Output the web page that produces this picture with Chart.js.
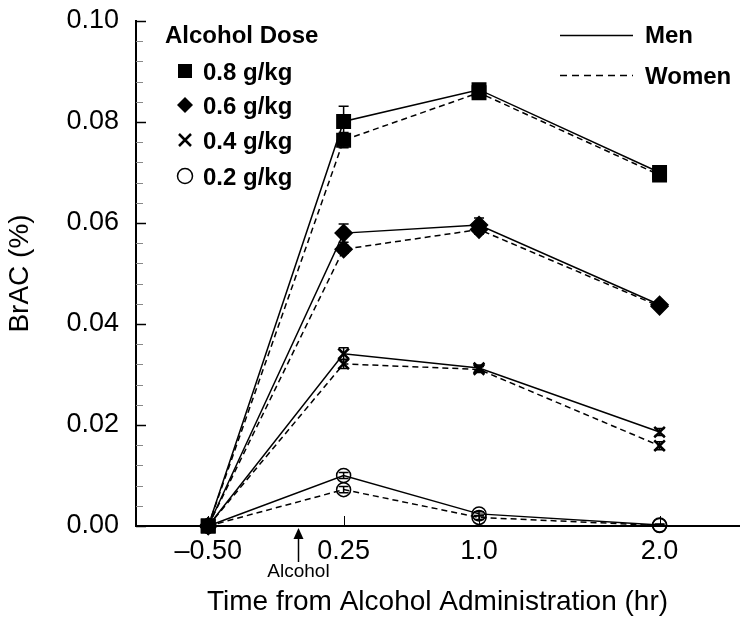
<!DOCTYPE html>
<html>
<head>
<meta charset="utf-8">
<script src="https://cdn.jsdelivr.net/npm/chart.js@4.4.0/dist/chart.umd.min.js"></script>
<style>
  html, body { margin: 0; padding: 0; background: #fff; }
  #wrap { width: 750px; height: 628px; position: relative; }
</style>
</head>
<body>
<div id="wrap"><canvas id="brac"></canvas></div>
<script>
// time points (hr) and their tick labels
const times = [-0.5, 0.25, 1.0, 2.0];
const timeLabels = ['\u20130.50', '0.25', '1.0', '2.0'];
const alcoholTime = 0;

const doseLabels = ['0.8 g/kg', '0.6 g/kg', '0.4 g/kg', '0.2 g/kg'];
const sexLabels = ['Men', 'Women'];

// mean BrAC (%)
const men08   = [0, 0.0801, 0.0864, 0.0700];
const women08 = [0, 0.0764, 0.0858, 0.0695];
const men06   = [0, 0.0580, 0.0596, 0.0438];
const women06 = [0, 0.0548, 0.0587, 0.0435];
const men04   = [0, 0.0341, 0.0313, 0.0186];
const women04 = [0, 0.0321, 0.0310, 0.0159];
const men02   = [0, 0.0100, 0.0024, 0.0002];
const women02 = [0, 0.0072, 0.0017, 0.0001];

// standard errors
const men08Err   = [0, 0.0030, 0.0008, 0.0006];
const women08Err = [0, 0.0015, 0.0008, 0.0006];
const men06Err   = [0, 0.0018, 0.0014, 0.0006];
const women06Err = [0, 0.0008, 0.0009, 0.0006];
const men04Err   = [0, 0.0012, 0.0006, 0.0007];
const women04Err = [0, 0.0009, 0.0006, 0.0008];
const men02Err   = [0, 0.0006, 0.0004, 0.0002];
const women02Err = [0, 0.0006, 0.0004, 0.0002];

const FONT = "'Liberation Sans', Arial, sans-serif";
const markers = ['rect', 'rectRot', 'crossRot', 'circle'];
const markerSize = [9.5, 8.5, 7.5, 7];

function series(values, errs, dose, women) {
  const style = markers[dose];
  return {
    label: sexLabels[women ? 1 : 0] + ' ' + doseLabels[dose],
    data: times.map((t, i) => ({ x: t, y: values[i] })),
    errors: errs,
    borderColor: '#000',
    borderWidth: 1.5,
    borderDash: women ? [6, 4] : [],
    pointStyle: style,
    pointRadius: markerSize[dose],
    pointBorderColor: '#000',
    pointBorderWidth: style === 'crossRot' ? 2.5 : 1.5,
    pointBackgroundColor: style === 'circle' ? 'rgba(0,0,0,0)' : '#000',
    tension: 0,
    clip: false
  };
}

const datasets = [
  series(men08, men08Err, 0, false), series(women08, women08Err, 0, true),
  series(men06, men06Err, 1, false), series(women06, women06Err, 1, true),
  series(men04, men04Err, 2, false), series(women04, women04Err, 2, true),
  series(men02, men02Err, 3, false), series(women02, women02Err, 3, true)
];

// inward ticks, minor y ticks, arrow marking alcohol
const axisDecor = {
  id: 'axisDecor',
  beforeDatasetsDraw(chart) {
    const { ctx, scales: { x, y }, chartArea } = chart;
    ctx.save();
    ctx.strokeStyle = '#000';
    for (let k = 0; k <= 25; k++) {
      const v = k * 0.004;
      const py = Math.round(y.getPixelForValue(v)) + 0.5;
      const major = k % 5 === 0;
      ctx.lineWidth = major ? 1.5 : 1;
      ctx.strokeStyle = major ? '#000' : '#888';
      ctx.beginPath();
      ctx.moveTo(chartArea.left, py);
      ctx.lineTo(chartArea.left + (major ? 10 : 7), py);
      ctx.stroke();
    }
    ctx.strokeStyle = '#000';
    ctx.lineWidth = 1;
    times.forEach(t => {
      const px = Math.round(x.getPixelForValue(t)) + 0.5;
      ctx.beginPath();
      ctx.moveTo(px, chartArea.bottom);
      ctx.lineTo(px, chartArea.bottom - 10);
      ctx.stroke();
    });
    ctx.restore();
  },
  afterDraw(chart) {
    const { ctx, scales: { x }, chartArea } = chart;
    const ax = Math.round(x.getPixelForValue(alcoholTime)) + 0.5;
    const top = chartArea.bottom + 2;
    ctx.save();
    ctx.fillStyle = '#000';
    ctx.strokeStyle = '#000';
    ctx.beginPath();
    ctx.moveTo(ax, top);
    ctx.lineTo(ax - 5, top + 11);
    ctx.lineTo(ax + 5, top + 11);
    ctx.closePath();
    ctx.fill();
    ctx.lineWidth = 1.5;
    ctx.beginPath();
    ctx.moveTo(ax, top + 10);
    ctx.lineTo(ax, top + 34);
    ctx.stroke();
    ctx.font = '19px ' + FONT;
    ctx.textAlign = 'center';
    ctx.textBaseline = 'alphabetic';
    ctx.fillText('Alcohol', ax, 577);
    ctx.restore();
  }
};

const errorBars = {
  id: 'errorBars',
  afterDatasetsDraw(chart) {
    const { ctx, scales: { y } } = chart;
    ctx.save();
    ctx.strokeStyle = '#000';
    ctx.lineWidth = 1.5;
    chart.data.datasets.forEach((ds, di) => {
      const meta = chart.getDatasetMeta(di);
      meta.data.forEach((pt, i) => {
        const e = ds.errors[i];
        if (!e) return;
        const v = ds.data[i].y;
        const y1 = y.getPixelForValue(v + e);
        const y2 = y.getPixelForValue(Math.max(v - e, 0));
        ctx.beginPath();
        ctx.moveTo(pt.x, y1); ctx.lineTo(pt.x, y2);
        ctx.moveTo(pt.x - 5, y1); ctx.lineTo(pt.x + 5, y1);
        ctx.moveTo(pt.x - 5, y2); ctx.lineTo(pt.x + 5, y2);
        ctx.stroke();
      });
    });
    ctx.restore();
  }
};

function drawMarker(ctx, style, cx, cy) {
  ctx.beginPath();
  if (style === 'rect') {
    ctx.fillRect(cx - 7, cy - 7, 14, 14);
  } else if (style === 'rectRot') {
    ctx.moveTo(cx, cy - 8); ctx.lineTo(cx + 8, cy);
    ctx.lineTo(cx, cy + 8); ctx.lineTo(cx - 8, cy);
    ctx.closePath(); ctx.fill();
  } else if (style === 'crossRot') {
    ctx.lineWidth = 2.5;
    ctx.moveTo(cx - 6, cy - 6); ctx.lineTo(cx + 6, cy + 6);
    ctx.moveTo(cx + 6, cy - 6); ctx.lineTo(cx - 6, cy + 6);
    ctx.stroke();
  } else {
    ctx.lineWidth = 1.5;
    ctx.arc(cx, cy, 7.5, 0, Math.PI * 2);
    ctx.stroke();
  }
}

const keyBoxes = {
  id: 'keyBoxes',
  afterDraw(chart) {
    const { ctx } = chart;
    ctx.save();
    ctx.fillStyle = '#000';
    ctx.strokeStyle = '#000';
    ctx.textAlign = 'left';
    ctx.textBaseline = 'alphabetic';
    ctx.font = 'bold 24px ' + FONT;
    ctx.fillText('Alcohol Dose', 165, 43);
    const rowY = [71, 105, 140, 176];
    doseLabels.forEach((lab, i) => {
      drawMarker(ctx, markers[i], 185, rowY[i]);
      ctx.fillText(lab, 203, rowY[i] + 9);
    });
    // men / women line key
    ctx.lineWidth = 1.5;
    ctx.beginPath();
    ctx.moveTo(560, 35.5); ctx.lineTo(633, 35.5);
    ctx.stroke();
    ctx.setLineDash([7, 5]);
    ctx.beginPath();
    ctx.moveTo(560, 75.5); ctx.lineTo(633, 75.5);
    ctx.stroke();
    ctx.setLineDash([]);
    ctx.fillText(sexLabels[0], 645, 43);
    ctx.fillText(sexLabels[1], 645, 84);
    ctx.restore();
  }
};

new Chart(document.getElementById('brac'), {
  type: 'line',
  data: { datasets },
  plugins: [axisDecor, errorBars, keyBoxes],
  options: {
    responsive: true,
    maintainAspectRatio: false,
    animation: false,
    layout: { padding: { top: 21, right: 11, left: 0, bottom: 0 } },
    plugins: { legend: { display: false }, tooltip: { enabled: false } },
    scales: {
      x: {
        type: 'linear',
        min: -0.9,
        max: 2.44,
        afterBuildTicks: s => { s.ticks = times.map(v => ({ value: v })); },
        afterFit: s => { s.height = 102; s.paddingLeft = 0; s.paddingRight = 0; },
        ticks: {
          autoSkip: false,
          maxRotation: 0,
          padding: 9,
          color: '#000',
          font: { family: FONT, size: 27 },
          callback: v => timeLabels[times.indexOf(v)]
        },
        grid: { drawOnChartArea: false, drawTicks: false },
        border: { color: '#000', width: 2 },
        title: {
          display: true,
          text: 'Time from Alcohol Administration (hr)',
          color: '#000',
          font: { family: FONT, size: 28 },
          padding: { top: 0, bottom: 9 }
        }
      },
      y: {
        min: 0,
        max: 0.1,
        afterFit: s => { s.width = 136; s.paddingTop = 0; s.paddingBottom = 0; },
        ticks: {
          stepSize: 0.02,
          padding: 17,
          color: '#000',
          font: { family: FONT, size: 27 },
          callback: v => v.toFixed(2)
        },
        grid: { drawOnChartArea: false, drawTicks: false },
        border: { color: '#000', width: 2 },
        title: {
          display: true,
          text: 'BrAC (%)',
          color: '#000',
          font: { family: FONT, size: 28 },
          padding: { top: 3, bottom: 0 }
        }
      }
    }
  }
});
</script>
</body>
</html>
